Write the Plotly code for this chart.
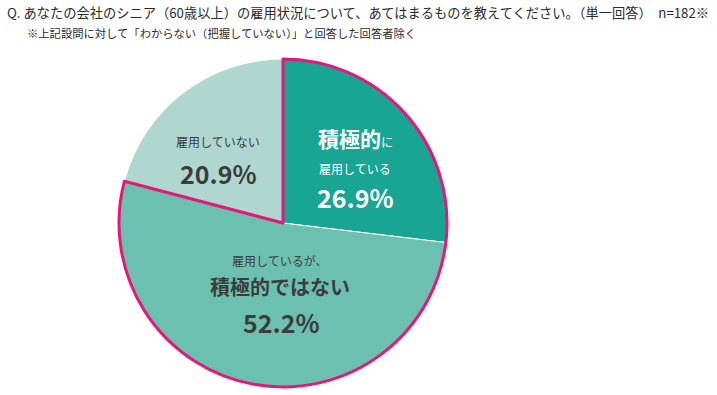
import plotly.graph_objects as go

labels = ["積極的に雇用している", "雇用しているが、積極的ではない", "雇用していない"]
values = [26.9, 52.2, 20.9]
colors = ["#19A593", "#6CC0B0", "#AFD6CF"]
title_text = "Q. あなたの会社のシニア（60歳以上）の雇用状況について、あてはまるものを教えてください。（単一回答）　n=182※"
note_text = "※上記設問に対して「わからない（把握していない）」と回答した回答者除く"

W, H = 717, 395
FONT = "Noto Sans CJK JP"
PINK = "#E5177B"
GRAY = "#3C3C3C"

def px(x):
    return x / W

def py(y):
    return 1 - y / H

domain = dict(x=[px(119), px(447)], y=[py(387), py(59)])

fig = go.Figure()
fig.add_trace(go.Pie(
    labels=labels, values=values, sort=False, direction="clockwise", rotation=0,
    marker=dict(colors=colors, line=dict(color="white", width=1)),
    textinfo="none", hoverinfo="skip", showlegend=False, domain=domain,
))
# pink outline around the "employed" group (first two slices)
employed = values[0] + values[1]
fig.add_trace(go.Pie(
    labels=["雇用している", "雇用していない"], values=[employed, values[2]],
    sort=False, direction="clockwise", rotation=0,
    marker=dict(colors=["rgba(0,0,0,0)", "rgba(0,0,0,0)"],
                line=dict(color=[PINK, "rgba(0,0,0,0)"], width=3)),
    textinfo="none", hoverinfo="skip", showlegend=False, domain=domain,
))

def ann(x, y, text, size, color, bold=False):
    t = f"<b>{text}</b>" if bold else text
    fig.add_annotation(x=px(x), y=py(y), xref="paper", yref="paper", text=t,
                       showarrow=False, xanchor="center", yanchor="middle",
                       font=dict(family=FONT, size=size, color=color))

# slice 1
ann(355, 138, "<b>積極的</b><span style='font-size:12px'>に</span>", 21, "white")
ann(355, 168, "雇用している", 12, "white")
ann(355, 197, f"{values[0]:.1f}%", 25, "white", bold=True)
# slice 2
ann(279, 260, "雇用しているが、", 12, GRAY)
ann(280, 286, "積極的ではない", 20, GRAY, bold=True)
ann(281, 322, f"{values[1]:.1f}%", 25, GRAY, bold=True)
# slice 3
ann(218, 142, "雇用していない", 12, GRAY)
ann(218, 173, f"{values[2]:.1f}%", 25, GRAY, bold=True)

# title and note
fig.add_annotation(x=px(5), y=py(12), xref="paper", yref="paper", text=title_text,
                   showarrow=False, xanchor="left", yanchor="middle",
                   font=dict(family=FONT, size=13.25, color="#2A2A2A"))
fig.add_annotation(x=px(25), y=py(33), xref="paper", yref="paper", text=note_text,
                   showarrow=False, xanchor="left", yanchor="middle",
                   font=dict(family=FONT, size=11.3, color="#2A2A2A"))

fig.update_layout(width=W, height=H, margin=dict(l=0, r=0, t=0, b=0),
                  paper_bgcolor="white", plot_bgcolor="white")
fig.write_html("out.html", config={"displayModeBar": False},
               post_script="document.body.style.margin='0';document.body.style.overflow='hidden';")
